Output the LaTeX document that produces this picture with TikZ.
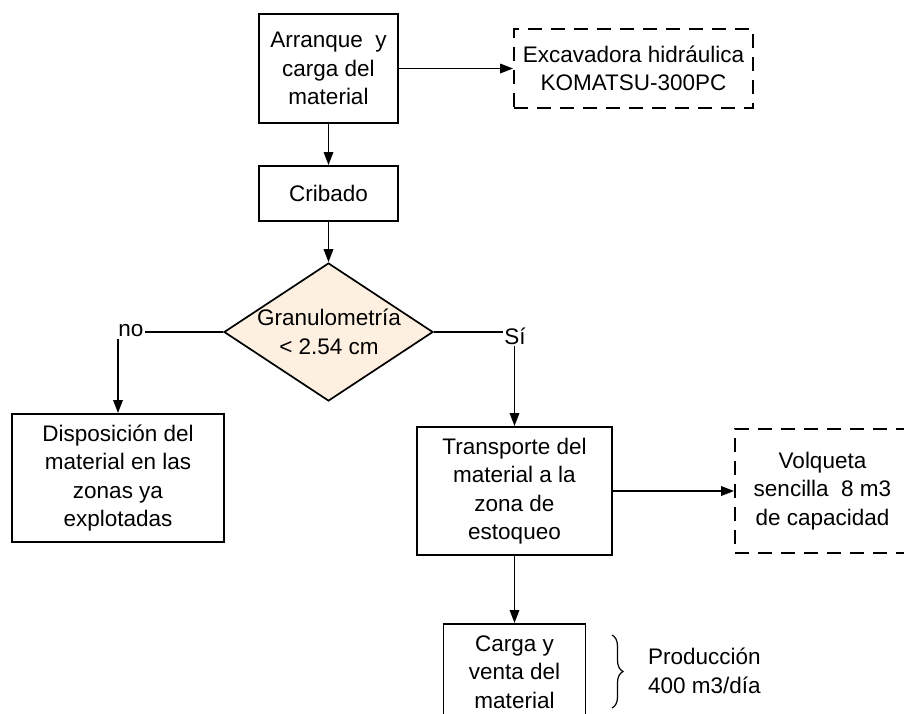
\documentclass[tikz,border=0pt]{standalone}
\usepackage{fontspec}
\setmainfont{Liberation Sans}
\usetikzlibrary{arrows.meta,shapes.geometric,decorations.pathreplacing}
\definecolor{peach}{HTML}{FDF0E1}
\begin{document}
\begin{tikzpicture}[x=1pt,y=-1pt,
  every node/.style={font=\fontsize{22.5}{28.5}\selectfont, align=center, inner sep=0pt},
  procbox/.style={draw, line width=1.9pt, rectangle},
  dashbox/.style={draw, line width=1.8pt, rectangle, dash pattern=on 14pt off 9pt},
  conn/.style={line width=1.7pt, -{Triangle[length=13pt,width=9.5pt]}},
  lbl/.style={fill=white, inner sep=1.5pt}
]
\useasboundingbox (0,0) rectangle (904,713);
\clip (0,0) rectangle (904,713);

\node[procbox, minimum width=139pt, minimum height=109pt] (arr) at (328.5,68.5) {Arranque\ \ y\\carga del\\material};
\node[dashbox, minimum width=239pt, minimum height=79pt] (exc) at (633.5,68.5) {Excavadora hidráulica\\KOMATSU-300PC};
\node[procbox, minimum width=139pt, minimum height=55pt] (crib) at (328.5,193.5) {Cribado};
\node[draw, shape=diamond, fill=peach, line width=1.7pt, minimum width=209pt, minimum height=138pt] (dia) at (328.5,332) {};
\node (diatxt) at (329,332) {Granulometría\\< 2.54 cm};
\node[procbox, minimum width=212pt, minimum height=128pt] (disp) at (118,478) {Disposición del\\material en las\\zonas ya\\explotadas};
\node[procbox, minimum width=195pt, minimum height=128pt] (transp) at (514.5,491) {Transporte del\\material a la\\zona de\\estoqueo};
\node[dashbox, minimum width=175pt, minimum height=124pt] (volq) at (822.5,491) {Volqueta\\sencilla\ \ 8 m3\\de capacidad};
\node[procbox, minimum width=142pt, minimum height=130pt, anchor=north] (carga) at (514.5,623) {};
\node (cargatxt) at (514.5,672) {Carga y\\venta del\\material};

\coordinate (braceTop) at (612,635);
\coordinate (braceBot) at (612,708);
\draw[line width=1.2pt, decorate, decoration={brace, amplitude=11pt}] (braceTop) -- (braceBot);
\node[anchor=west, align=left] (prod) at (648,671) {Producción\\400 m3/día};

\draw[conn] (arr.east) -- (exc.west);
\draw[conn] (arr.south) -- (crib.north);
\draw[conn] (crib.south) -- (dia.north);
\draw[conn] (dia.west) -| (disp.north);
\draw[conn] (dia.east) -| (transp.north);
\draw[conn] (transp.east) -- (volq.west);
\draw[conn] (transp.south) -- (carga.north);

\node[lbl] (no) at (131,331) {no};
\node[lbl] (si) at (515,336) {Sí};
\end{tikzpicture}
\end{document}
